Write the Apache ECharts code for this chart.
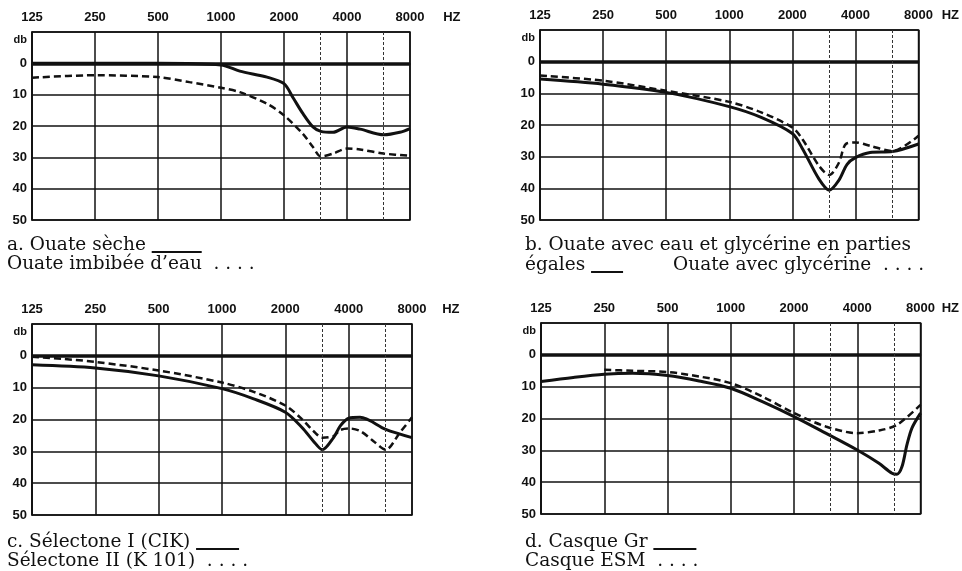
<!DOCTYPE html>
<html>
<head>
<meta charset="utf-8">
<script src="https://cdn.jsdelivr.net/npm/echarts@6/dist/echarts.min.js"></script>
<style>
  html, body { margin: 0; padding: 0; background: #fff; }
  #main { width: 962px; height: 571px; }
</style>
</head>
<body>
<div id="main"></div>
<script>
// axe des fréquences (octaves)
const freqLabels = ['125', '250', '500', '1000', '2000', '4000', '8000'];
const subFreqs = [3000, 6000]; // lignes intermédiaires

// a. Ouate sèche / Ouate imbibée d'eau
const aSolidHz = [125, 250, 500, 1000, 1230, 1660, 2000, 2210, 2460, 2750, 3000, 3430, 4000, 4620, 6000, 7150, 8000];
const aSolidDb = [0, 0, 0, 0.5, 2.5, 4.4, 6.5, 11, 16, 20.3, 21.7, 22, 20.3, 21, 22.8, 22, 20.8];
const aDashHz = [125, 250, 500, 707, 1000, 1230, 1660, 2000, 2460, 2750, 3000, 3430, 4000, 4620, 6000, 8000];
const aDashDb = [4.6, 3.8, 4.4, 6, 7.8, 9.2, 12.9, 16.6, 22.5, 26.7, 29.7, 28.8, 27.2, 27.5, 28.8, 29.5];

// b. Ouate avec eau et glycérine / Ouate avec glycérine
const bSolidHz = [125, 250, 500, 1000, 1420, 2000, 2235, 2680, 3000, 3330, 3650, 4000, 4700, 6000, 8000];
const bSolidDb = [5.5, 7.1, 9.7, 14.2, 17.6, 22.7, 27.5, 37.1, 40.6, 37.5, 32.4, 30.3, 28.7, 28.4, 26];
const bDashHz = [125, 250, 500, 1000, 1420, 2000, 2235, 2680, 3000, 3330, 3600, 4000, 4700, 6000, 8000];
const bDashDb = [4.4, 6, 9.2, 12.7, 16, 20.8, 24.5, 32.9, 35.8, 32, 26, 25.5, 26.6, 28.2, 23.4];

// c. Sélectone I (CIK) / Sélectone II (K 101)
const cSolidHz = [125, 250, 500, 1000, 1414, 2000, 2400, 2720, 3000, 3390, 3650, 4000, 4530, 6000, 8000];
const cSolidDb = [2.8, 3.8, 6.3, 10.3, 13.5, 17.7, 22.5, 26.8, 29.5, 25.7, 22, 19.6, 19.3, 23.1, 25.7];
const cDashHz = [125, 177, 250, 500, 1000, 1414, 2000, 2400, 2720, 3000, 3390, 3650, 4000, 4530, 5250, 6000, 7010, 8000];
const cDashDb = [0.3, 1, 1.9, 4.6, 8.4, 11.3, 15.6, 19.9, 23.6, 25.7, 25.2, 23.3, 22.8, 23.6, 26.8, 29.5, 24.1, 19.3];

// d. Casque Gr / Casque ESM
const dSolidHz = [125, 178, 250, 341, 500, 707, 1000, 1414, 2000, 2830, 4000, 5050, 5850, 6180, 6530, 6890, 7280, 8000];
const dSolidDb = [8.4, 7.1, 6.1, 5.8, 6.5, 8.2, 10.5, 14.7, 19.4, 24.6, 29.9, 34, 37.2, 37.5, 35.1, 28.3, 23, 18.3];
const dDashHz = [250, 341, 500, 707, 1000, 1414, 2000, 2830, 4000, 5050, 6180, 8000];
const dDashDb = [4.7, 5, 5.4, 6.8, 8.9, 13.1, 18.3, 22.5, 24.6, 23.8, 22, 15.7];

// légendes sous chaque graphique ({ln| } = trait plein)
const captions = [
  '{t1|a. Ouate sèche }{ln| }\n{t2|Ouate imbibée d\u2019eau  . . . .}',
  '{t2|b. Ouate avec eau et glycérine en parties}\n{t1|égales }{ln| }{gap| }{t1|Ouate avec glycérine  . . . .}',
  '{t1|c. Sélectone I (CIK) }{ln| }\n{t2|Sélectone II (K 101)  . . . .}',
  '{t1|d. Casque Gr }{ln| }\n{t2|Casque ESM  . . . .}'
];

const ink = '#111';
const labelFont = { fontFamily: 'Liberation Sans', fontWeight: 'bold', fontSize: 13, color: ink };
const capFont = { fontFamily: 'DejaVu Serif', fontWeight: 'normal', fontSize: 18.5, color: ink };

// position en octaves au-dessus de 125 Hz
const oct = f => Math.log2(f / 125);
const pts = (hz, db) => hz.map((f, i) => [oct(f), db[i]]);

const panels = [
  { grid: { left: 32, top: 32, width: 378, height: 188 }, cap: { left: 7, top: 237 }, bar: 50, gap: 50, hz: 36, solid: pts(aSolidHz, aSolidDb), dash: pts(aDashHz, aDashDb) },
  { grid: { left: 540, top: 30, width: 382, height: 190 }, cap: { left: 525, top: 234 }, bar: 32, gap: 50, hz: 26, solid: pts(bSolidHz, bSolidDb), dash: pts(bDashHz, bDashDb) },
  { grid: { left: 32, top: 324, width: 380, height: 191 }, cap: { left: 7, top: 534 }, bar: 43, gap: 50, hz: 33, solid: pts(cSolidHz, cSolidDb), dash: pts(cDashHz, cDashDb) },
  { grid: { left: 541, top: 323, width: 381, height: 191 }, cap: { left: 525, top: 534 }, bar: 43, gap: 50, hz: 24, solid: pts(dSolidHz, dSolidDb), dash: pts(dDashHz, dDashDb) }
];

const option = {
  animation: false,
  backgroundColor: '#fff',
  title: panels.map((p, i) => ({
    text: captions[i],
    left: p.cap.left,
    top: p.cap.top,
    padding: 0,
    textStyle: Object.assign({}, capFont, {
      lineHeight: 16,
      rich: {
        t1: Object.assign({}, capFont, { lineHeight: 16 }),
        t2: Object.assign({}, capFont, { lineHeight: 23 }),
        ln: { width: p.bar, height: 2, lineHeight: 2, backgroundColor: ink, verticalAlign: 'bottom' },
        gap: { width: p.gap, lineHeight: 2 }
      }
    })
  })),
  grid: panels.map(p => Object.assign({ show: true, borderColor: ink, borderWidth: 1.5, backgroundColor: 'transparent' }, p.grid)),
  xAxis: panels.map((p, i) => ({
    type: 'value',
    gridIndex: i,
    position: 'top',
    min: 0,
    max: 6,
    interval: 1,
    axisLine: { show: true, lineStyle: { color: ink, width: 1.5 } },
    axisTick: { show: false },
    axisLabel: Object.assign({}, labelFont, {
      margin: 8,
      // "HZ" accroché au dernier label, "8000" reste centré sur sa ligne
      formatter: v => (v === 6 ? '{pad| }{n|8000}{hz|HZ}' : freqLabels[v]),
      rich: {
        n: labelFont,
        pad: { width: p.hz },
        hz: Object.assign({}, labelFont, { width: p.hz, align: 'right' })
      }
    }),
    splitLine: { show: true, lineStyle: { color: ink, width: 1.5 } }
  })),
  yAxis: panels.map((p, i) => ({
    type: 'value',
    gridIndex: i,
    inverse: true,
    min: -10,
    max: 50,
    interval: 10,
    axisLine: { show: true, lineStyle: { color: ink, width: 1.5 } },
    axisTick: { show: false },
    axisLabel: Object.assign({}, labelFont, {
      margin: 5,
      formatter: v => (v === -10 ? '{db|db}' : String(v)),
      rich: { db: Object.assign({}, labelFont, { fontSize: 11, padding: [16, 0, 0, 0] }) }
    }),
    splitLine: { show: true, lineStyle: { color: ink, width: 1.5 } }
  })),
  series: []
};

panels.forEach((p, i) => {
  option.series.push({
    type: 'line',
    xAxisIndex: i,
    yAxisIndex: i,
    data: p.solid,
    smooth: 0.3,
    symbol: 'none',
    lineStyle: { color: ink, width: 3 },
    z: 4,
    markLine: {
      silent: true,
      symbol: ['none', 'none'],
      label: { show: false },
      data: [
        { yAxis: 0, lineStyle: { color: ink, width: 3.5, type: 'solid' } }
      ].concat(subFreqs.map(f => ({ xAxis: oct(f), lineStyle: { color: '#333', width: 1, type: [3, 2] } })))
    }
  });
  option.series.push({
    type: 'line',
    xAxisIndex: i,
    yAxisIndex: i,
    data: p.dash,
    smooth: 0.3,
    symbol: 'none',
    lineStyle: { color: ink, width: 2.5, type: [7, 4] },
    z: 3
  });
});

const myChart = echarts.init(document.getElementById('main'));
myChart.setOption(option);
</script>
</body>
</html>
